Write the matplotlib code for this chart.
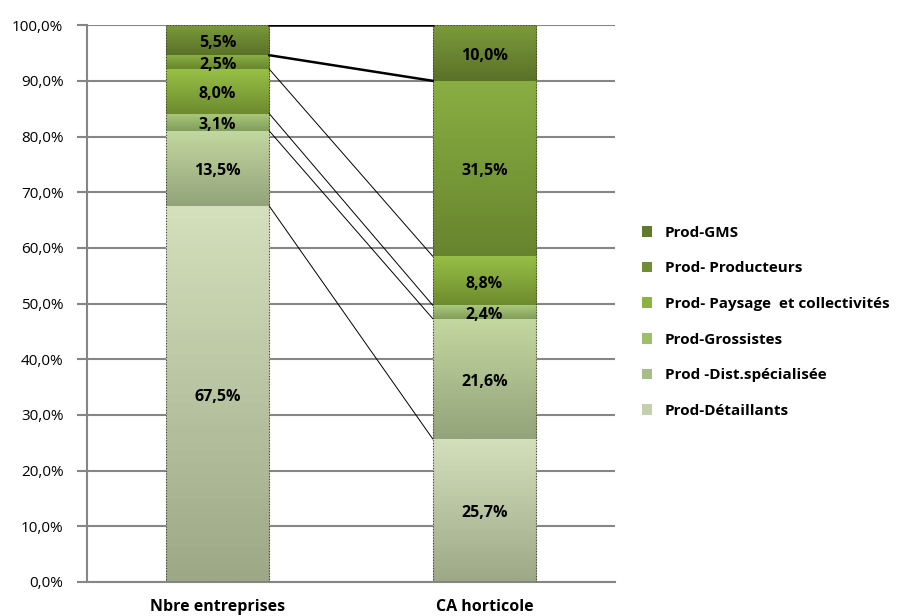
import numpy as np
import matplotlib
matplotlib.use('Agg')
import matplotlib.pyplot as plt
from matplotlib.colors import LinearSegmentedColormap
from matplotlib.patches import Patch
from matplotlib.ticker import FuncFormatter

categories = ['Nbre entreprises', 'CA horticole']
series = ['Prod-Détaillants', 'Prod -Dist.spécialisée', 'Prod-Grossistes',
          'Prod- Paysage  et collectivités', 'Prod- Producteurs', 'Prod-GMS']
detaillants = [67.5, 25.7]
dist_specialisee = [13.5, 21.6]
grossistes = [3.1, 2.4]
paysage = [8.0, 8.8]
producteurs = [2.5, 31.5]
gms = [5.5, 10.0]

# gradient (top, bottom) per series, legend colour
TOP = ['#d4e0bc', '#c3d7a0', '#abc97c', '#98c046', '#8aae42', '#7b9b3a']
BOTTOM = ['#9da887', '#93a47a', '#819d5a', '#6d8b2e', '#67852e', '#5a7129']
LEGEND = ['#c3cfae', '#a8bc88', '#9dbf6a', '#8db23f', '#6f9032', '#5f7a2c']

FONT = ['Open Sans', 'DejaVu Sans']


def gradient_fill(ax, patch, top, bottom):
    """Paint a vertical gradient inside a bar patch."""
    x0, y0 = patch.get_x(), patch.get_y()
    w, h = patch.get_width(), patch.get_height()
    cmap = LinearSegmentedColormap.from_list('g', [bottom, top])
    grad = np.linspace(0, 1, 64).reshape(-1, 1)
    im = ax.imshow(grad, extent=[x0, x0 + w, y0, y0 + h], origin='lower',
                   aspect='auto', cmap=cmap, zorder=2)
    im.set_clip_path(patch)


def main():
    plt.rcParams['font.family'] = FONT
    values = [detaillants, dist_specialisee, grossistes, paysage, producteurs, gms]
    fig = plt.figure(figsize=(8.97, 6.16), dpi=100)
    ax = fig.add_axes([0.097, 0.0552, 0.5886, 0.904])
    x = np.arange(len(categories))
    width = 0.387
    bottoms = np.zeros(len(categories))
    tops_list = []
    for i, vals in enumerate(values):
        vals = np.array(vals)
        bars = ax.bar(x, vals, width, bottom=bottoms, color=LEGEND[i],
                      edgecolor='none', zorder=1)
        for b in bars:
            gradient_fill(ax, b, TOP[i], BOTTOM[i])
        for xi, v, b0 in zip(x, vals, bottoms):
            ax.text(xi, b0 + v / 2 - 0.5, ('%.1f%%' % v).replace('.', ','),
                    ha='center', va='center', fontsize=11.5, fontweight='bold',
                    zorder=5)
        bottoms = bottoms + vals
        tops_list.append(bottoms.copy())

    # dotted outline of each full bar
    ax.bar(x, np.minimum(bottoms, 100), width, facecolor='none',
           edgecolor='#404040', linestyle=(0, (1, 1.5)), linewidth=0.8, zorder=4)

    # series lines between bars
    for i, tops in enumerate(tops_list):
        lw = 1.8 if i >= 4 else 0.7
        ax.plot([x[0] + width / 2, x[1] - width / 2], np.minimum(tops, 100),
                color='black', linewidth=lw, zorder=3)

    ax.set_xlim(-0.49, 1.49)
    ax.set_ylim(0, 100)
    ax.set_yticks(np.arange(0, 101, 10))
    ax.yaxis.set_major_formatter(FuncFormatter(lambda v, p: ('%.1f%%' % v).replace('.', ',')))
    ax.set_xticks(x)
    ax.set_xticklabels(categories, fontweight='bold', fontsize=11.5)
    ax.tick_params(axis='x', length=0, pad=12)
    ax.tick_params(axis='y', length=7, width=1.5, color='#868686', labelsize=11,
                   pad=10)
    ax.grid(True, axis='y', color='#868686', linewidth=1.5, zorder=0)
    ax.set_axisbelow(True)
    for s in ['top', 'right']:
        ax.spines[s].set_visible(False)
    for s in ['left', 'bottom']:
        ax.spines[s].set_color('#868686')
        ax.spines[s].set_linewidth(1.5)

    handles = [Patch(facecolor=LEGEND[i], edgecolor='none', label=series[i])
               for i in range(len(series))][::-1]
    fig.legend(handles=handles, loc='upper left', bbox_to_anchor=(0.7, 0.656),
               frameon=False, prop={'weight': 'bold', 'size': 11},
               handlelength=0.7, handleheight=0.7, handletextpad=0.8,
               labelspacing=1.42)
    fig.savefig('out.png', dpi=100)


if __name__ == "__main__":
    main()
